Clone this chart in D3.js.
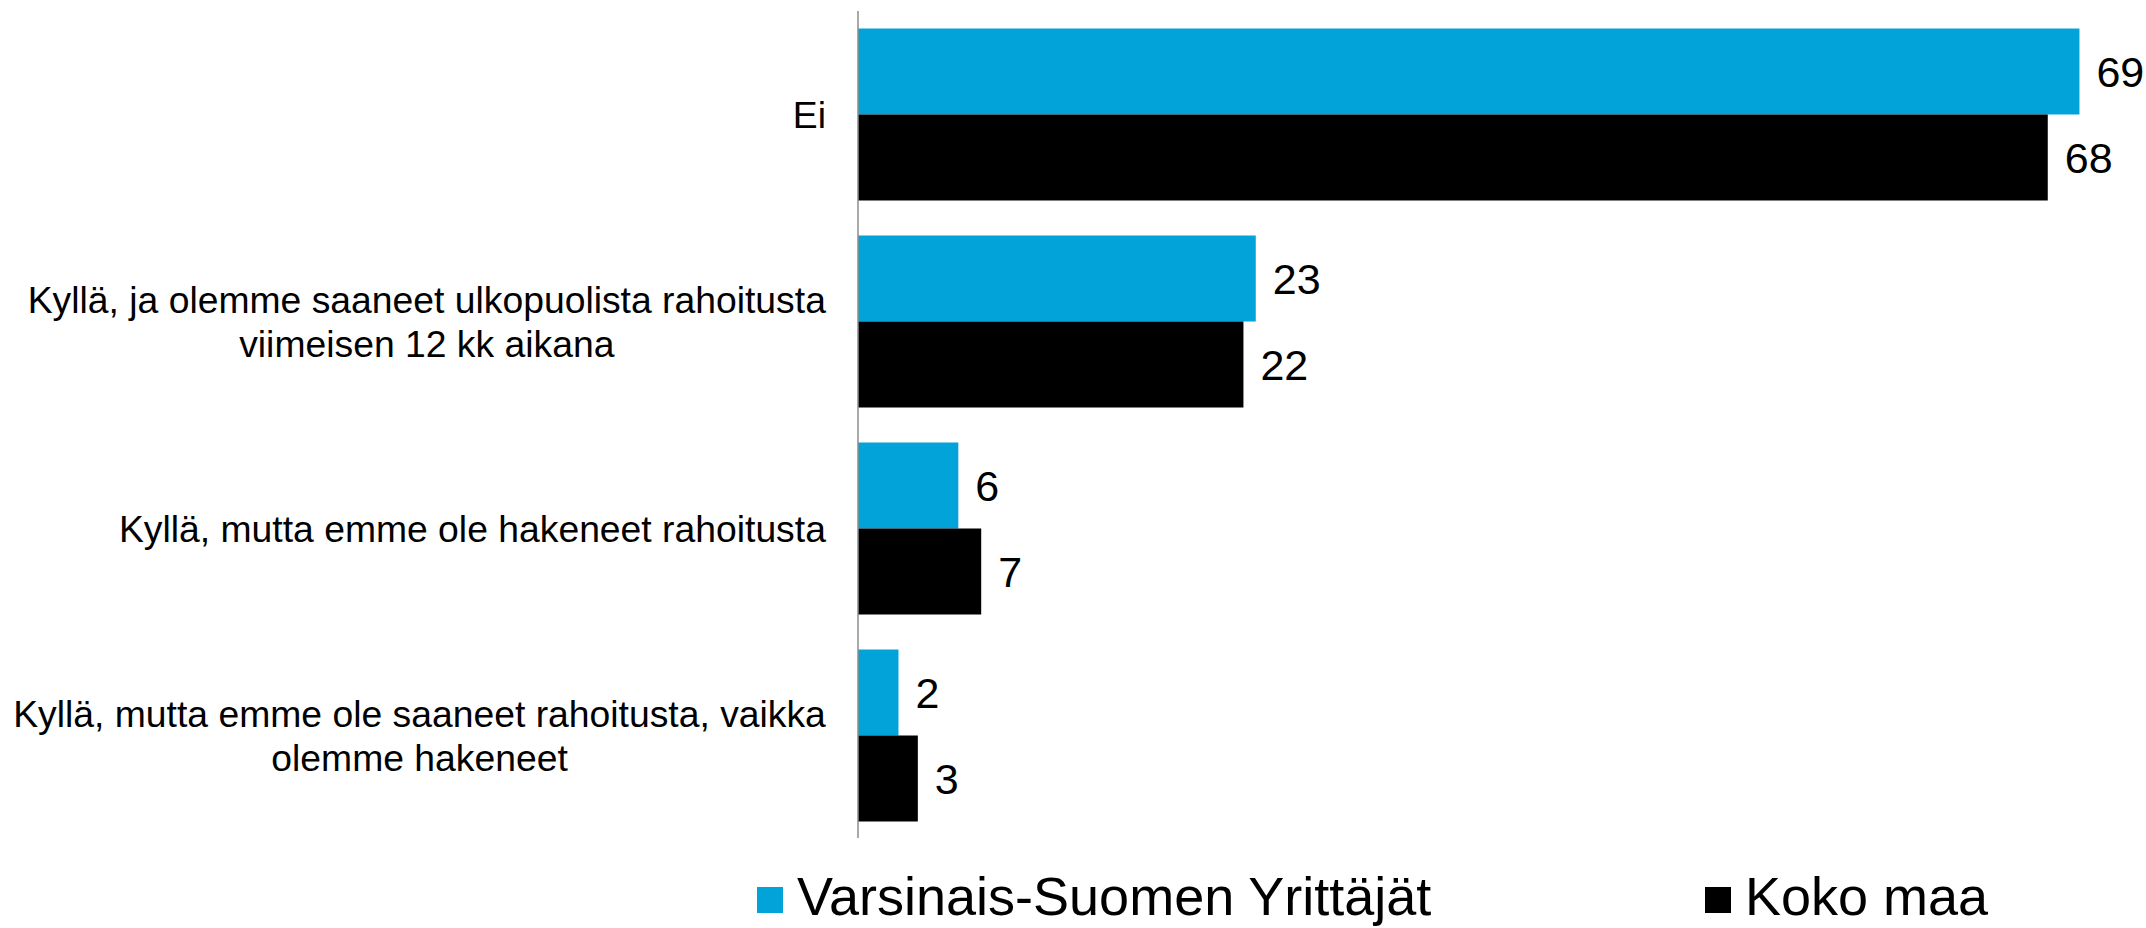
<!DOCTYPE html>
<html>
<head>
<meta charset="utf-8">
<script src="https://cdn.jsdelivr.net/npm/d3@7"></script>
<style>
  html, body { margin: 0; padding: 0; background: #fff; }
  svg { display: block; }
  text { font-family: "Liberation Sans", Arial, sans-serif; fill: #000; }
</style>
</head>
<body>
<svg id="chart" width="2146" height="928"></svg>
<script>
const categories = [
  ["Ei"],
  ["Kyllä, ja olemme saaneet ulkopuolista rahoitusta", "viimeisen 12 kk aikana"],
  ["Kyllä, mutta emme ole hakeneet rahoitusta"],
  ["Kyllä, mutta emme ole saaneet rahoitusta, vaikka", "olemme hakeneet"]
];
const seriesNames = ["Varsinais-Suomen Yrittäjät", "Koko maa"];
const seriesColors = ["#02A3D9", "#000000"];
const varsinaisSuomi = [69.4, 22.6, 5.7, 2.3];
const kokoMaa = [67.6, 21.9, 7.0, 3.4];
const seriesValues = [varsinaisSuomi, kokoMaa];

const svg = d3.select("#chart");
const axisX = 858;
const catKeys = categories.map((c, i) => i);

const x = d3.scaleLinear().domain([0, 70]).range([axisX, axisX + 70 * 17.6]);
const y = d3.scaleBand().domain(catKeys).range([11, 839]).paddingInner(0).paddingOuter(0);
const ySub = d3.scaleBand().domain(d3.range(seriesNames.length)).range([0, y.bandwidth()]).paddingInner(0).paddingOuter(0.2035);
const fmt = d3.format(".0f");

const groups = svg.append("g").selectAll("g")
  .data(catKeys).join("g")
  .attr("transform", d => `translate(0,${y(d)})`);

groups.selectAll("rect")
  .data(ci => seriesValues.map((vals, si) => ({ si, v: vals[ci] })))
  .join("rect")
  .attr("x", x(0))
  .attr("y", d => ySub(d.si))
  .attr("width", d => x(d.v) - x(0))
  .attr("height", ySub.bandwidth())
  .attr("fill", d => seriesColors[d.si]);

groups.selectAll("text.val")
  .data(ci => seriesValues.map((vals, si) => ({ si, v: vals[ci] })))
  .join("text")
  .attr("class", "val")
  .attr("x", d => x(d.v) + 17)
  .attr("y", d => ySub(d.si) + ySub.bandwidth() / 2)
  .attr("dy", "0.35em")
  .attr("font-size", 43)
  .text(d => fmt(d.v));

// category labels
const labelRight = 826;
const lineH = 44;
const labelG = svg.append("g");
categories.forEach((lines, i) => {
  const cy = y(i) + y.bandwidth() / 2;
  const g = labelG.append("g");
  const t = g.append("text").attr("font-size", 37.3).attr("text-anchor", "middle");
  const n = lines.length;
  lines.forEach((ln, k) => {
    t.append("tspan").attr("x", 0).attr("y", cy + (k - (n - 1) / 2) * lineH).attr("dy", "0.35em").text(ln);
  });
  const bb = t.node().getBBox();
  g.attr("transform", `translate(${labelRight - bb.width / 2},0)`);
});

// axis line
svg.append("line")
  .attr("x1", axisX).attr("x2", axisX)
  .attr("y1", 11).attr("y2", 838)
  .attr("stroke", "#8c8c8c").attr("stroke-width", 1.5);

// legend
const legendX = [757, 1705];
const legend = svg.append("g");
seriesNames.forEach((name, i) => {
  legend.append("rect")
    .attr("x", legendX[i]).attr("y", 887)
    .attr("width", 26).attr("height", 26)
    .attr("fill", seriesColors[i]);
  legend.append("text")
    .attr("x", legendX[i] + 40).attr("y", 915)
    .attr("font-size", 54)
    .text(name);
});
</script>
</body>
</html>
